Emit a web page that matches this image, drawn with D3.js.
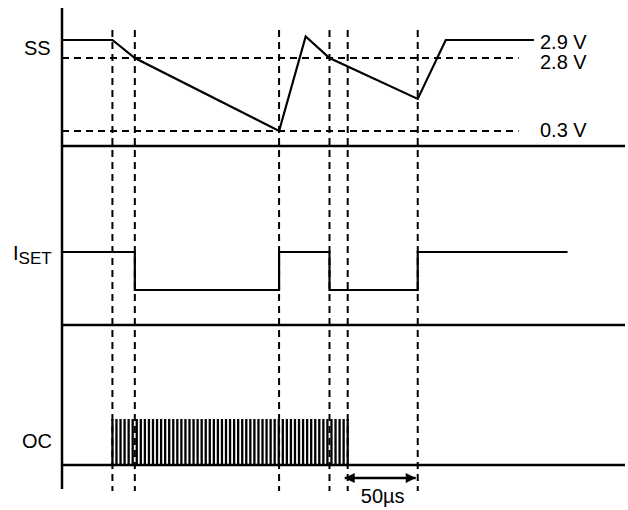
<!DOCTYPE html>
<html>
<head>
<meta charset="utf-8">
<script src="https://cdn.jsdelivr.net/npm/d3@7"></script>
<style>
  body { margin: 0; background: #fff; }
  svg text { font-family: "Liberation Sans", Arial, sans-serif; fill: #000; }
</style>
</head>
<body>
<svg id="chart"></svg>
<script>
// time in µs, SS in volts (schematic), ISET / OC as logic levels
const eventTimes = [36, 52, 155, 191, 204, 254];
const ssTimes = [0, 36, 52, 155, 174, 191, 254, 274, 337];
const ssVolts = [2.9, 2.9, 2.8, 0.3, 2.92, 2.8, 1.4, 2.9, 2.9];
const refLevels = [2.8, 0.3];
const refLabels = ["2.9 V", "2.8 V", "0.3 V"];
const isetTimes = [0, 52, 52, 155, 155, 191, 191, 254, 254, 361];
const isetLevels = [1, 1, 0, 0, 1, 1, 0, 0, 1, 1];
const ocPulseStart = 36;
const ocPulseEnd = 204;
const ocPulseCount = 59;
const spanLabel = "50µs";

const width = 628, height = 510;
const svg = d3.select("#chart").attr("width", width).attr("height", height);

const x = d3.scaleLinear().domain([0, 402]).range([62, 625]);
// piecewise so the 2.9 V level sits above 2.8 V like the drawing
const ySS = d3.scaleLinear().domain([0.3, 2.8, 2.9]).range([131, 58, 40]);
const yIset = d3.scaleLinear().domain([0, 1]).range([290, 252]);
const yOc = d3.scaleLinear().domain([0, 1]).range([465, 419]);

const dash = "7,5";

// dashed event markers
svg.append("g")
  .selectAll("line")
  .data(eventTimes)
  .join("line")
  .attr("x1", d => x(d)).attr("x2", d => x(d))
  .attr("y1", 30).attr("y2", 491)
  .attr("stroke", "#000").attr("stroke-width", 2)
  .attr("stroke-dasharray", dash);

// dashed reference levels
svg.append("g")
  .selectAll("line")
  .data(refLevels)
  .join("line")
  .attr("x1", x(0)).attr("x2", x(326))
  .attr("y1", d => ySS(d)).attr("y2", d => ySS(d))
  .attr("stroke", "#000").attr("stroke-width", 2)
  .attr("stroke-dasharray", dash);

// left axis and panel separators
svg.append("line")
  .attr("x1", x(0)).attr("x2", x(0)).attr("y1", 8).attr("y2", 489)
  .attr("stroke", "#000").attr("stroke-width", 2.5);

[146, 325, 465].forEach(y => {
  svg.append("line")
    .attr("x1", x(0)).attr("x2", x(402)).attr("y1", y).attr("y2", y)
    .attr("stroke", "#000").attr("stroke-width", 2.5);
});

// SS waveform
const ssData = ssTimes.map((t, i) => [t, ssVolts[i]]);
svg.append("path")
  .datum(ssData)
  .attr("d", d3.line().x(d => x(d[0])).y(d => ySS(d[1])))
  .attr("fill", "none").attr("stroke", "#000").attr("stroke-width", 2.2)
  .attr("stroke-linejoin", "miter");

// ISET waveform
const isetData = isetTimes.map((t, i) => [t, isetLevels[i]]);
svg.append("path")
  .datum(isetData)
  .attr("d", d3.line().x(d => x(d[0])).y(d => yIset(d[1])))
  .attr("fill", "none").attr("stroke", "#000").attr("stroke-width", 2.2);

// OC pulse train
const pulseTimes = d3.range(ocPulseCount).map(i =>
  ocPulseStart + (ocPulseEnd - ocPulseStart) * i / (ocPulseCount - 1));
svg.append("g")
  .selectAll("line")
  .data(pulseTimes)
  .join("line")
  .attr("x1", d => x(d)).attr("x2", d => x(d))
  .attr("y1", yOc(0)).attr("y2", yOc(1))
  .attr("stroke", "#000").attr("stroke-width", 2.3);

// signal labels
svg.append("text").attr("x", 24).attr("y", 55).attr("font-size", 20).text("SS");
const iset = svg.append("text").attr("x", 13).attr("y", 260).attr("font-size", 20);
iset.append("tspan").text("I");
iset.append("tspan").attr("font-size", 17).attr("dy", 4).text("SET");
svg.append("text").attr("x", 22).attr("y", 448).attr("font-size", 20).text("OC");

// voltage labels
const labelY = [49, 69, 137];
svg.append("g")
  .selectAll("text")
  .data(refLabels)
  .join("text")
  .attr("x", 540).attr("y", (d, i) => labelY[i])
  .attr("font-size", 20)
  .text(d => d);

// 50µs span arrow
const defs = svg.append("defs");
["start", "end"].forEach(k => {
  defs.append("marker")
    .attr("id", "arr-" + k)
    .attr("viewBox", "0 0 10 10")
    .attr("refX", k === "end" ? 10 : 0).attr("refY", 5)
    .attr("markerWidth", 13).attr("markerHeight", 10)
    .attr("markerUnits", "userSpaceOnUse")
    .attr("orient", "auto")
    .append("path")
    .attr("d", k === "end" ? "M0,0L10,5L0,10Z" : "M10,0L0,5L10,10Z")
    .attr("fill", "#000");
});
svg.append("line")
  .attr("x1", x(eventTimes[4]) - 3).attr("x2", x(eventTimes[5]) - 2)
  .attr("y1", 478).attr("y2", 478)
  .attr("stroke", "#000").attr("stroke-width", 2.5)
  .attr("marker-start", "url(#arr-start)")
  .attr("marker-end", "url(#arr-end)");
svg.append("text")
  .attr("x", (x(eventTimes[4]) + x(eventTimes[5])) / 2)
  .attr("y", 503).attr("text-anchor", "middle").attr("font-size", 20)
  .text(spanLabel);
</script>
</body>
</html>
